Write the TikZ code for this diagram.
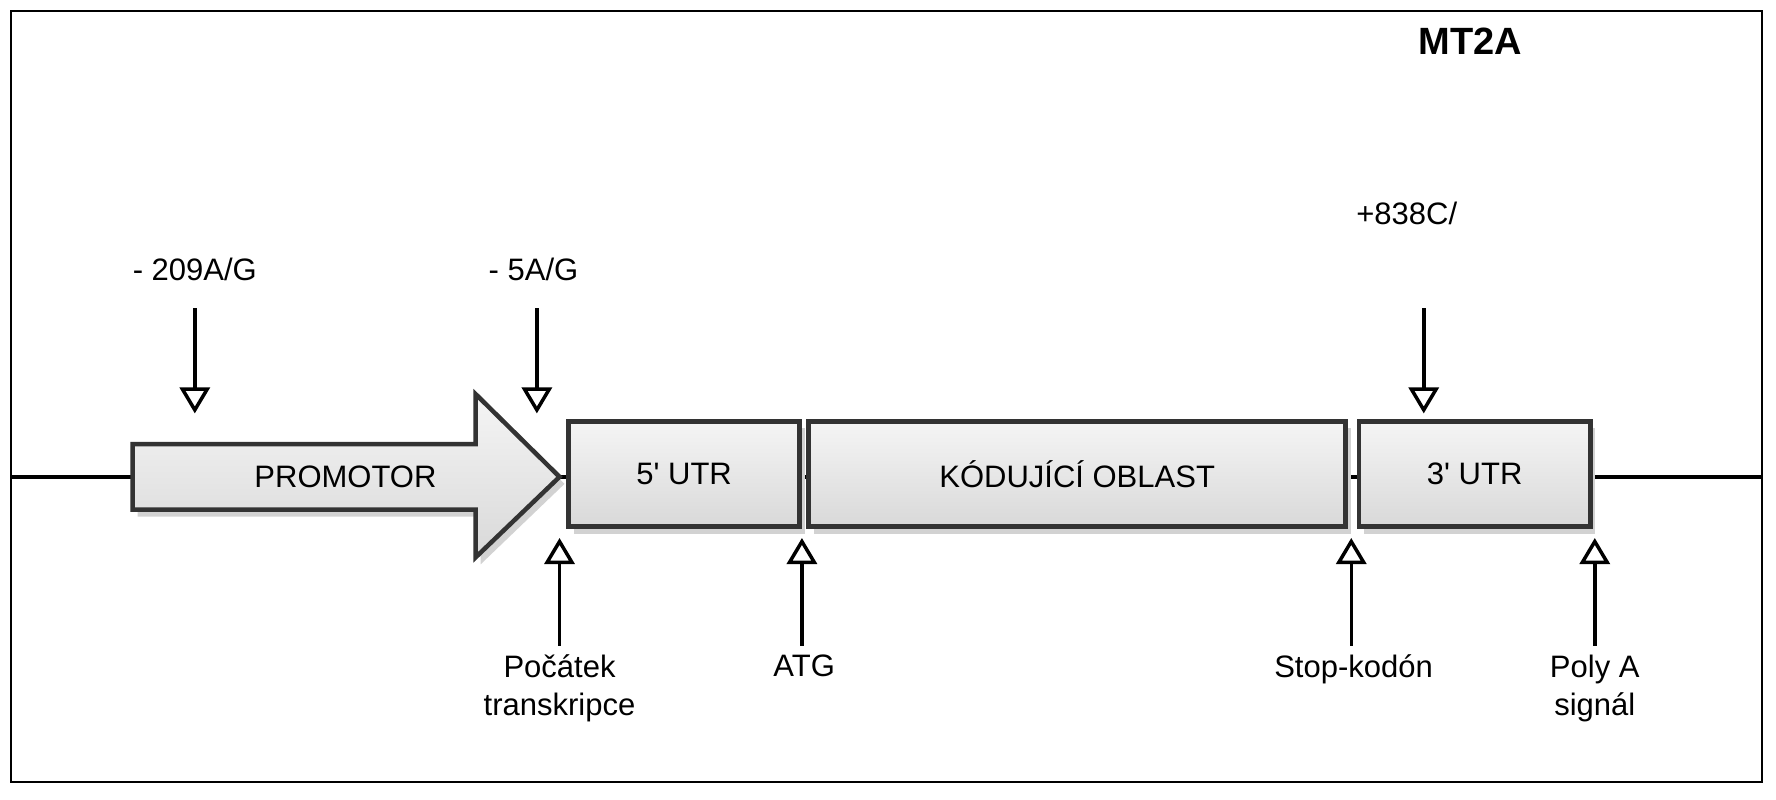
\documentclass[tikz,border=0pt]{standalone}
\usepackage{fontspec}
\setmainfont{Liberation Sans}
\usetikzlibrary{arrows.meta,shadows}
\tikzset{
  part/.style={draw=black!80, line width=4.5pt, top color=gray!8, bottom color=gray!30,
    drop shadow={shadow xshift=5pt, shadow yshift=-7pt, fill=gray!35, opacity=1}},
  pointer/.style={line width=3.5pt, -{Triangle[open, length=26pt, width=30pt, line width=3.5pt]}},
  lbl/.style={font=\fontsize{31}{38}\selectfont, align=center}
}
\begin{document}
\begin{tikzpicture}[x=1.1327pt, y=-1.1327pt]
\useasboundingbox (0,0) rectangle (1568,706.3);
\draw[line width=2pt] (10,10) rectangle (1556,690);
\node[font=\fontsize{38}{42}\selectfont\bfseries] (title) at (1298,36) {MT2A};
% DNA line
\coordinate (L) at (10,421);
\coordinate (R) at (1556,421);
\draw[line width=3.5pt] (L) -- (R);
% promoter and gene parts
\draw[part] (117,392) -- (420,392) -- (420,348) -- (494,421) -- (420,492) -- (420,450) -- (117,450) -- cycle;
\node[lbl] (prom) at (305,421) {PROMOTOR};
\node[part, minimum width=204*1.1327pt, minimum height=93*1.1327pt] (utr5) at (604,418.5) {};
\node[lbl] at (utr5) {5\textquotesingle{} UTR};
\node[part, minimum width=474*1.1327pt, minimum height=93*1.1327pt] (cds) at (951,418.5) {};
\node[lbl] at (cds) {KÓDUJÍCÍ OBLAST};
\node[part, minimum width=204*1.1327pt, minimum height=93*1.1327pt] (utr3) at (1302,418.5) {};
\node[lbl] at (utr3) {3\textquotesingle{} UTR};
% variants
\node[lbl] (v1) at (172,238) {- 209A/G};
\node[lbl] (v2) at (471,238) {- 5A/G};
\node[lbl] (v3) at (1242,188) {+838C/};
\coordinate (v1s) at (172,272); \coordinate (v1e) at (172,365);
\coordinate (v2s) at (474,272); \coordinate (v2e) at (474,365);
\coordinate (v3s) at (1257,272); \coordinate (v3e) at (1257,365);
\foreach \v in {v1,v2,v3} \draw[pointer] (\v s) -- (\v e);
% landmarks
\node[lbl, anchor=north] (tss) at (494,575) {Počátek\\transkripce};
\node[lbl, anchor=north] (atg) at (710,575) {ATG};
\node[lbl, anchor=north] (stop) at (1195,575) {Stop-kodón};
\node[lbl, anchor=north] (polya) at (1408,575) {Poly A\\signál};
\coordinate (t1s) at (494,570); \coordinate (t1e) at (494,475);
\coordinate (t2s) at (708,570); \coordinate (t2e) at (708,475);
\coordinate (t3s) at (1193,570); \coordinate (t3e) at (1193,475);
\coordinate (t4s) at (1408,570); \coordinate (t4e) at (1408,475);
\foreach \t in {t1,t2,t3,t4} \draw[pointer] (\t s) -- (\t e);
\end{tikzpicture}
\end{document}
